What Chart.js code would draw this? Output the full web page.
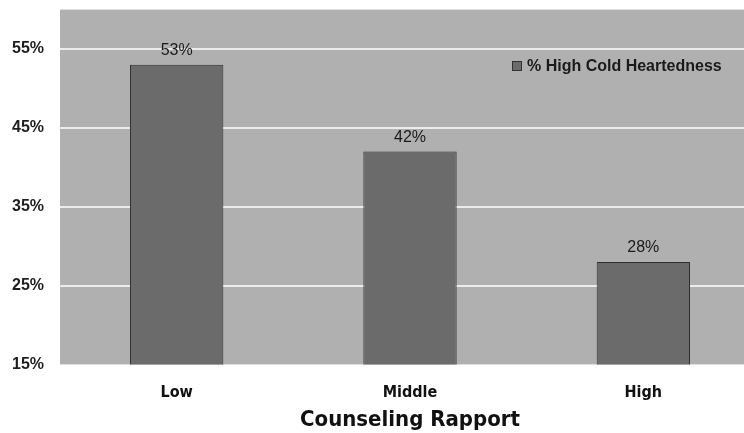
<!DOCTYPE html>
<html>
<head>
<meta charset="utf-8">
<script src="https://cdn.jsdelivr.net/npm/chart.js@4.4.0/dist/chart.umd.min.js"></script>
<style>
  html, body { margin: 0; padding: 0; background: #fff; }
  #wrap { width: 744px; height: 433px; position: relative; overflow: hidden; }
  /* canvas a bit larger than the page so the plot runs off the right edge like the original */
  #barCanvas { position: absolute; left: -16px; top: -16px; }
</style>
</head>
<body>
<div id="wrap"><canvas id="barCanvas" width="776" height="451"></canvas></div>
<script>
// ---- data ----
const categories = ['Low', 'Middle', 'High'];
const highColdHeartedness = [53, 42, 28];
const yTickValues = [15, 25, 35, 45, 55];
const seriesLabel = '% High Cold Heartedness';
const axisTitle = 'Counseling Rapport';

const NARROW = "'DejaVu Sans Condensed', 'Liberation Sans Narrow', sans-serif";
const PLOT_BG = '#b0b0b0';
const BAR_FILL = '#6b6b6b';
const OFFSET_X = 16, OFFSET_Y = 16; // canvas shift vs page

// grey plot area behind bars
const plotBackground = {
  id: 'plotBackground',
  beforeDraw(chart) {
    const { ctx, chartArea: a } = chart;
    ctx.save();
    ctx.fillStyle = PLOT_BG;
    ctx.fillRect(a.left, a.top, a.right - a.left, a.bottom - a.top);
    ctx.restore();
  }
};

// value labels above each bar + legend box inside plot
const barLabels = {
  id: 'barLabels',
  afterDatasetsDraw(chart) {
    const { ctx } = chart;
    const meta = chart.getDatasetMeta(0);
    ctx.save();
    ctx.font = "16px 'Liberation Sans', Arial, sans-serif";
    ctx.fillStyle = '#1a1a1a';
    ctx.textAlign = 'center';
    ctx.textBaseline = 'bottom';
    meta.data.forEach((bar, i) => {
      ctx.fillText(chart.data.datasets[0].data[i] + '%', bar.x, bar.y - 6);
    });

    // legend
    const ds = chart.data.datasets[0];
    const lx = 512 + OFFSET_X, ly = 66 + OFFSET_Y;
    ctx.fillStyle = ds.backgroundColor;
    ctx.strokeStyle = '#333';
    ctx.lineWidth = 1;
    ctx.fillRect(lx, ly - 5, 10, 10);
    ctx.strokeRect(lx + 0.5, ly - 4.5, 9, 9);
    ctx.font = "bold 16px 'Liberation Sans', Arial, sans-serif";
    ctx.fillStyle = '#1a1a1a';
    ctx.textAlign = 'left';
    ctx.textBaseline = 'middle';
    ctx.fillText(ds.label, lx + 15, ly + 1);
    ctx.restore();
  }
};

new Chart(document.getElementById('barCanvas'), {
  type: 'bar',
  data: {
    labels: categories,
    datasets: [{
      label: seriesLabel,
      data: highColdHeartedness,
      backgroundColor: BAR_FILL,
      borderColor: '#2e2e2e',
      borderWidth: 1,
      borderSkipped: false,
      categoryPercentage: 0.4,
      barPercentage: 1.0
    }]
  },
  options: {
    responsive: false,
    animation: false,
    layout: { padding: { top: 0, left: 12, right: 0, bottom: 2 } },
    plugins: {
      legend: { display: false },
      tooltip: { enabled: false }
    },
    scales: {
      y: {
        min: 15,
        max: 60,
        afterBuildTicks(scale) {
          scale.ticks = yTickValues.map(v => ({ value: v }));
        },
        border: { display: false },
        grid: {
          color: ctx => ctx.tick && ctx.tick.value === 15 ? 'rgba(0,0,0,0)' : '#ececec',
          lineWidth: 2,
          drawTicks: false
        },
        ticks: {
          padding: 16,
          color: '#1e1e1e',
          font: { family: "'Liberation Sans', Arial, sans-serif", size: 16, weight: 'bold' },
          callback: v => v + '%'
        }
      },
      x: {
        border: { display: false },
        grid: { display: false, drawTicks: false },
        ticks: {
          padding: 19,
          color: '#111',
          font: { family: NARROW, size: 16, weight: 'bold' }
        },
        title: {
          display: true,
          text: axisTitle,
          color: '#111',
          padding: { top: -15, bottom: 0 },
          font: { family: NARROW, size: 22, weight: 'bold' }
        }
      }
    }
  },
  plugins: [plotBackground, barLabels]
});
</script>
</body>
</html>
